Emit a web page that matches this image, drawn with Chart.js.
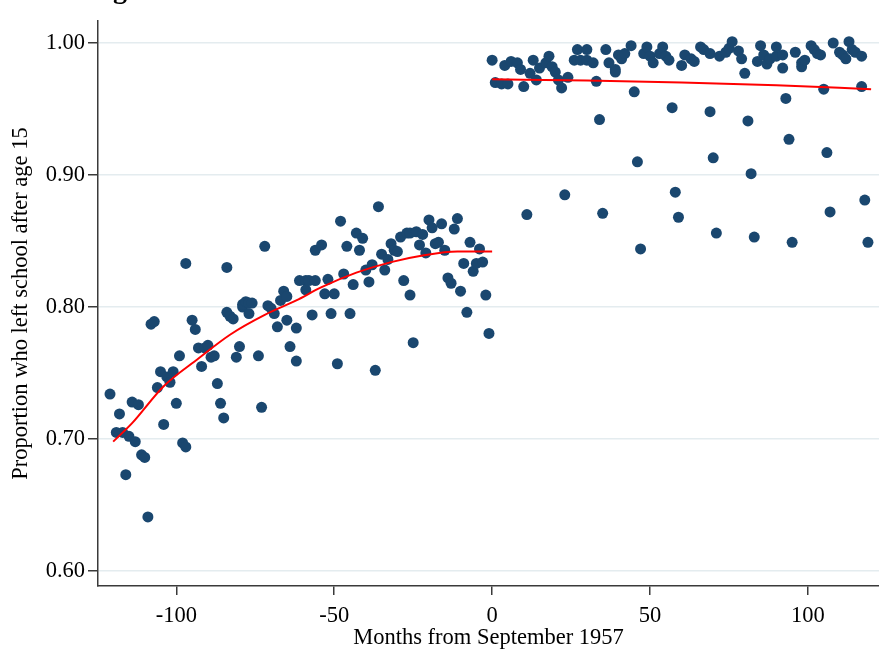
<!DOCTYPE html>
<html><head><meta charset="utf-8">
<script src="https://cdn.jsdelivr.net/npm/chart.js@4/dist/chart.umd.min.js"></script>
<style>
html,body{margin:0;padding:0;background:#fff;overflow:hidden}
#wrap{position:relative;width:879px;height:652px;overflow:hidden}
#cut{position:absolute;left:88px;top:-25px;font:bold 28px 'Liberation Serif';line-height:28px;white-space:nowrap;color:#000}
</style></head><body>
<div id="wrap"><canvas id="c" width="879" height="652"></canvas><div id="cut">Figure 1</div></div>
<script>
// months before September 1957 (cohort-month means)
const leftMonths = [-121,-119,-118,-117,-116,-115,-114,-113,-112,-111,-110,-109,-108,-107,-106,-105,-104,-103,-102,-101,-100,-99,-98,-97,-97,-95,-94,-93,-92,-91,-90,-89,-88,-87,-86,-85,-84,-84,-83,-82,-81,-80,-79,-79,-78,-77,-77,-76,-74,-73,-72,-71,-70,-69,-68,-67,-66,-65,-65,-64,-62,-62,-61,-59,-59,-58,-57,-56,-56,-54,-53,-52,-51,-50,-49,-48,-47,-46,-45,-44,-43,-42,-41,-40,-39,-38,-37,-36,-35,-34,-33,-32,-31,-30,-29,-28,-27,-26,-26,-25,-24,-23,-22,-21,-20,-19,-18,-17,-16,-15,-14,-13,-12,-11,-10,-9,-8,-7,-6,-5,-4,-3,-2,-1];
const leftShares = [0.734,0.705,0.719,0.705,0.673,0.702,0.728,0.698,0.726,0.688,0.686,0.641,0.787,0.789,0.739,0.751,0.711,0.747,0.743,0.751,0.727,0.763,0.697,0.694,0.833,0.790,0.783,0.769,0.755,0.769,0.771,0.762,0.763,0.742,0.727,0.716,0.830,0.796,0.793,0.791,0.762,0.770,0.800,0.802,0.804,0.795,0.803,0.803,0.763,0.724,0.846,0.801,0.799,0.795,0.785,0.805,0.812,0.790,0.808,0.770,0.784,0.759,0.820,0.820,0.813,0.820,0.794,0.820,0.843,0.847,0.810,0.821,0.795,0.810,0.757,0.865,0.825,0.846,0.795,0.817,0.856,0.843,0.852,0.828,0.819,0.832,0.752,0.876,0.840,0.828,0.836,0.848,0.843,0.842,0.853,0.820,0.856,0.809,0.856,0.773,0.857,0.847,0.855,0.841,0.866,0.860,0.848,0.849,0.863,0.843,0.822,0.818,0.859,0.867,0.812,0.833,0.796,0.849,0.827,0.833,0.844,0.834,0.809,0.780];
// months from September 1957 onwards
const rightMonths = [0,1,3,4,5,6,8,9,10,11,12,13,14,15,17,18,19,20,21,22,23,24,26,27,28,30,30,32,33,34,35,36,37,39,39,40,41,42,44,45,46,47,48,49,50,51,53,54,55,56,57,58,59,60,61,63,64,66,67,69,69,70,71,72,74,75,76,78,79,80,81,82,83,84,85,86,87,88,90,90,92,92,93,94,95,96,98,98,99,101,102,103,104,105,106,107,108,110,111,112,113,114,115,117,117,118,119];
const rightShares = [0.987,0.970,0.969,0.983,0.969,0.986,0.985,0.980,0.967,0.870,0.977,0.987,0.972,0.981,0.985,0.990,0.982,0.978,0.972,0.966,0.885,0.974,0.987,0.995,0.987,0.995,0.987,0.985,0.971,0.942,0.871,0.995,0.985,0.980,0.978,0.991,0.988,0.992,0.998,0.963,0.910,0.844,0.992,0.997,0.990,0.985,0.992,0.997,0.990,0.987,0.951,0.887,0.868,0.983,0.991,0.988,0.986,0.997,0.995,0.992,0.948,0.913,0.856,0.990,0.993,0.996,1.001,0.994,0.988,0.977,0.941,0.901,0.853,0.986,0.998,0.991,0.984,0.988,0.990,0.997,0.991,0.981,0.958,0.927,0.849,0.993,0.985,0.982,0.987,0.998,0.995,0.992,0.991,0.965,0.917,0.872,1.000,0.993,0.991,0.988,1.001,0.995,0.993,0.990,0.967,0.881,0.849];
// fitted curves
const fitLeftMonths = [-120,-114,-104,-93,-83,-72,-62,-54,-43,-32,-22,-11,0];
const fitLeftValues = [0.698,0.712,0.740,0.761,0.779,0.794,0.805,0.815,0.826,0.834,0.839,0.842,0.842];
const fitRightMonths = [0,30,60,90,120];
const fitRightValues = [0.9725,0.9715,0.970,0.968,0.965];
const xTicks = [-100,-50,0,50,100];
const yTicks = [0.6,0.7,0.8,0.9,1.0];

const pts = (xs, ys) => xs.map((x, i) => ({x: x, y: ys[i]}));
const NAVY = '#1a476f';
const AXIS = '#3a3a3a';
const FONT = {family: "'Liberation Serif', 'Times New Roman', serif", size: 22.5};

new Chart(document.getElementById('c'), {
  type: 'scatter',
  data: {
    datasets: [
      {data: pts(fitLeftMonths, fitLeftValues), showLine: true, borderColor: '#ff0000', borderWidth: 2, pointRadius: 0, cubicInterpolationMode: 'monotone', order: 0},
      {data: pts(fitRightMonths, fitRightValues), showLine: true, borderColor: '#ff0000', borderWidth: 2, pointRadius: 0, cubicInterpolationMode: 'monotone', order: 0},
      {data: pts(leftMonths, leftShares), pointRadius: 5.5, pointBackgroundColor: NAVY, pointBorderWidth: 0, order: 1},
      {data: pts(rightMonths, rightShares), pointRadius: 5.5, pointBackgroundColor: NAVY, pointBorderWidth: 0, order: 1}
    ]
  },
  options: {
    responsive: false, animation: false, devicePixelRatio: 1,
    layout: {autoPadding: false, padding: {top: 21, right: 0, left: 0, bottom: 0}},
    plugins: {legend: {display: false}, tooltip: {enabled: false}},
    scales: {
      x: {
        type: 'linear', min: -124.8, max: 122.5,
        afterBuildTicks: s => { s.ticks = xTicks.map(v => ({value: v})); },
        afterFit: s => { s.height = 66; s.paddingRight = 0; s.paddingLeft = 0; },
        grid: {drawOnChartArea: false, tickLength: 9, tickColor: AXIS, lineWidth: 1.5},
        border: {color: AXIS, width: 1.5},
        ticks: {font: FONT, color: '#000', padding: 8, maxRotation: 0, callback: v => String(v)},
        title: {display: true, text: 'Months from September 1957', font: FONT, color: '#000', padding: {top: 0, bottom: 0}}
      },
      y: {
        type: 'linear', min: 0.6 - 15/1320, max: 1.0 + 22/1320,
        afterBuildTicks: s => { s.ticks = yTicks.map(v => ({value: v})); },
        afterFit: s => { s.width = 98; s.paddingTop = 0; s.paddingBottom = 0; },
        grid: {color: '#e4ecef', lineWidth: 1.5, tickLength: 10, tickColor: AXIS},
        border: {color: AXIS, width: 1.5},
        ticks: {font: FONT, color: '#000', padding: 3, callback: v => v.toFixed(2)},
        title: {display: true, text: 'Proportion who left school after age 15', font: FONT, color: '#000', padding: {top: 8, bottom: 0}}
      }
    }
  }
});
</script>
</body></html>
